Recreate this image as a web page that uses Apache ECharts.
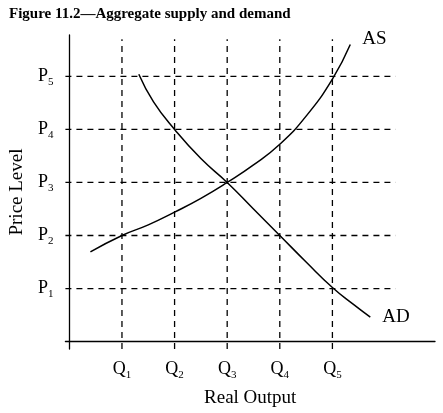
<!DOCTYPE html>
<html><head><meta charset="utf-8">
<script src="https://cdn.jsdelivr.net/npm/echarts@6/dist/echarts.min.js"></script>
<style>html,body{margin:0;padding:0;background:#fff}#c{width:443px;height:413px}</style>
</head><body><div id="c"></div>
<script>
const qLabels = ['1','2','3','4','5'];
const pLabels = ['1','2','3','4','5'];
const asCurve = [[0.40,1.69],[1,2],[1.5,2.2],[2,2.44],[2.5,2.7],[3,3],[3.5,3.33],[4,3.72],[4.5,4.25],[5,4.95],[5.34,5.6]];
const adCurve = [[1.32,5.04],[1.6,4.52],[2,4],[2.5,3.45],[3,3],[3.5,2.5],[4,2],[4.5,1.5],[5,1.02],[5.4,0.7],[5.72,0.46]];
const font = 'Liberation Serif';
const chart = echarts.init(document.getElementById('c'));
const dash = {color:'#000', type:[6,5], width:1.3};
const series = [];
qLabels.forEach((q,i)=>series.push({type:'line',symbol:'none',silent:true,lineStyle:dash,data:[[i+1,-0.14],[i+1,5.7]]}));
pLabels.forEach((p,i)=>series.push({type:'line',symbol:'none',silent:true,lineStyle:dash,data:[[-0.075,i+1],[6.2,i+1]]}));
series.push({type:'line',smooth:true,symbol:'none',lineStyle:{color:'#000',width:1.5},data:asCurve,
  endLabel:{show:true,formatter:'AS',fontFamily:font,fontSize:19,color:'#000',offset:[4,-6]}});
series.push({type:'line',smooth:true,symbol:'none',lineStyle:{color:'#000',width:1.5},data:adCurve,
  endLabel:{show:true,formatter:'AD',fontFamily:font,fontSize:19,color:'#000',offset:[4,0]}});
const rich = {b:{fontFamily:font,fontSize:18,color:'#000'},s:{fontFamily:font,fontSize:11,color:'#000',padding:[12,0,0,0]}};
const fmt = labels => v => {const i=Math.round(v);return (Math.abs(v-i)<1e-6&&i>=1&&i<=5)?'{b|'+labels.n+'}{s|'+labels.l[i-1]+'}':'';};
chart.setOption({
  animation:false,
  title:{text:'Figure 11.2\u2014Aggregate supply and demand',left:4,top:2,textStyle:{fontFamily:font,fontWeight:'bold',fontSize:15,color:'#000'}},
  grid:{left:63,right:8,top:35,bottom:61},
  xAxis:{type:'value',min:-0.075,max:6.95,interval:0.025,
    axisLine:{show:true,lineStyle:{color:'#000',width:1.3}},axisTick:{show:false},splitLine:{show:false},
    axisLabel:{margin:9,interval:0,hideOverlap:false,rich:rich,formatter:fmt({n:'Q',l:qLabels})},
    name:'Real Output',nameLocation:'middle',nameGap:40,nameTextStyle:{fontFamily:font,fontSize:19,color:'#000'}},
  yAxis:{type:'value',min:-0.14,max:5.78,interval:0.02,
    axisLine:{show:true,lineStyle:{color:'#000',width:1.3}},axisTick:{show:false},splitLine:{show:false},
    axisLabel:{margin:12,interval:0,hideOverlap:false,rich:rich,formatter:fmt({n:'P',l:pLabels})},
    name:'Price Level',nameLocation:'middle',nameGap:30,nameTextStyle:{fontFamily:font,fontSize:19,color:'#000'}},
  series:series
});
</script></body></html>
